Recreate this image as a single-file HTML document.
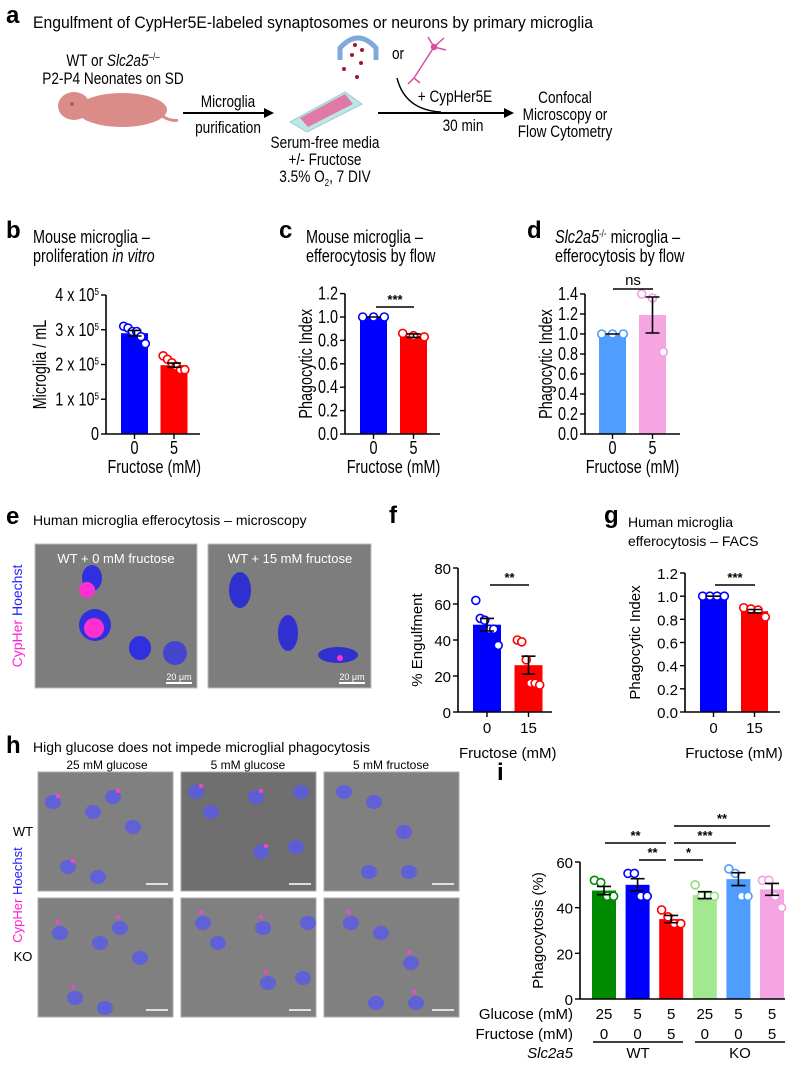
<!DOCTYPE html>
<html><head><meta charset="utf-8">
<style>
html,body{margin:0;padding:0;background:#fff;}
svg{display:block;font-family:"Liberation Sans",sans-serif;}
.lbl{font-weight:bold;font-size:24px;}
</style></head><body>
<svg id="fig" width="800" height="1092" viewBox="0 0 800 1092" xmlns="http://www.w3.org/2000/svg">
<!-- Panel a -->
<g>
<text class="lbl" x="6" y="23">a</text>
<text x="33" y="28" font-size="17" textLength="560" lengthAdjust="spacingAndGlyphs">Engulfment of CypHer5E-labeled synaptosomes or neurons by primary microglia</text>
<text class="n" x="113" y="66" font-size="17" text-anchor="middle">WT or <tspan font-style="italic">Slc2a5</tspan><tspan font-size="10" dy="-6">–/–</tspan></text>
<text class="n" x="113" y="84" font-size="17" text-anchor="middle">P2-P4 Neonates on SD</text>
<g fill="#d98c88">
<ellipse cx="122" cy="110" rx="45" ry="17"/>
<ellipse cx="74" cy="106" rx="16" ry="14"/>
<path d="M162 116 Q172 122 178 120" stroke="#d98c88" stroke-width="3" fill="none"/>
<circle cx="72" cy="104" r="1.8" fill="#8c5a58"/>
</g>
<line x1="183" y1="113" x2="266" y2="113" stroke="#000" stroke-width="2"/>
<polygon points="274,113 264,108 264,118" fill="#000"/>
<text class="n" x="228" y="107" font-size="17" text-anchor="middle">Microglia</text>
<text class="n" x="228" y="133" font-size="17" text-anchor="middle">purification</text>
<g>
<polygon points="290,122 345,92 362,104 307,132" fill="#bfe6e6" stroke="#9ccfcf"/>
<polygon points="300,118 345,94 353,104 308,127" fill="#e07aa5"/>
</g>
<text class="n" x="325" y="148" font-size="17" text-anchor="middle">Serum-free media</text>
<text class="n" x="325" y="165" font-size="17" text-anchor="middle">+/- Fructose</text>
<text class="n" x="325" y="182" font-size="17" text-anchor="middle">3.5% O<tspan font-size="10" dy="4">2</tspan><tspan dy="-4">, 7 DIV</tspan></text>
<g>
<path d="M340 60 L340 48 Q358 28 376 48 L376 60" fill="none" stroke="#7fa8dc" stroke-width="5"/>
<circle cx="355" cy="45" r="2" fill="#a01830"/><circle cx="362" cy="50" r="2" fill="#a01830"/>
<circle cx="352" cy="55" r="2" fill="#a01830"/><circle cx="361" cy="63" r="2" fill="#a01830"/>
<circle cx="344" cy="69" r="2" fill="#a01830"/><circle cx="357" cy="77" r="2" fill="#a01830"/>
</g>
<text class="n" x="398" y="59" font-size="17" text-anchor="middle">or</text>
<g stroke="#d94fa0" stroke-width="1.5" fill="none">
<path d="M434 47 L414 78 M434 47 L428 37 M434 47 L444 38 M434 47 L446 50 M414 78 L408 84 M414 78 L420 83"/>
<circle cx="434" cy="47" r="2.5" fill="#d94fa0"/>
</g>
<path d="M397 78 Q405 110 441 112" fill="none" stroke="#000" stroke-width="1.5"/>
<line x1="378" y1="113" x2="506" y2="113" stroke="#000" stroke-width="2"/>
<polygon points="514,113 504,108 504,118" fill="#000"/>
<text class="n" x="455" y="102" font-size="17" text-anchor="middle">+ CypHer5E</text>
<text class="n" x="463" y="131" font-size="17" text-anchor="middle">30 min</text>
<text class="n" x="565" y="103" font-size="17" text-anchor="middle">Confocal</text>
<text class="n" x="565" y="120" font-size="17" text-anchor="middle">Microscopy or</text>
<text class="n" x="565" y="137" font-size="17" text-anchor="middle">Flow Cytometry</text>
</g>
<!-- titles b c d -->
<text class="lbl" x="6" y="238">b</text>
<text class="n" x="33" y="243" font-size="18">Mouse microglia –</text>
<text class="n" x="33" y="262" font-size="18">proliferation <tspan font-style="italic">in vitro</tspan></text>
<text class="lbl" x="279" y="238">c</text>
<text class="n" x="306" y="243" font-size="18">Mouse microglia –</text>
<text class="n" x="306" y="262" font-size="18">efferocytosis by flow</text>
<text class="lbl" x="527" y="238">d</text>
<text class="n" x="555" y="243" font-size="18"><tspan font-style="italic">Slc2a5</tspan><tspan font-size="10" dy="-6">-/-</tspan><tspan dy="6"> microglia –</tspan></text>
<text class="n" x="555" y="262" font-size="18">efferocytosis by flow</text>
<!-- e -->
<text class="lbl" x="6" y="524">e</text>
<text x="33" y="525" font-size="14">Human microglia efferocytosis – microscopy</text>
<text x="22" y="616" font-size="14" transform="rotate(-90 22 616)" text-anchor="middle"><tspan fill="#ff1fd2">CypHer</tspan> <tspan fill="#2020ff">Hoechst</tspan></text>
<g>
<rect x="35" y="544" width="162" height="144" fill="#7d7d7d" stroke="#bbb"/>
<ellipse cx="92" cy="578" rx="10" ry="13" fill="#3030e0"/><circle cx="87" cy="590" r="8" fill="#ff30d0"/>
<ellipse cx="95" cy="625" rx="16" ry="16" fill="#3030e0"/><circle cx="94" cy="628" r="10" fill="#ff30d0"/>
<ellipse cx="140" cy="648" rx="11" ry="12" fill="#3030e0"/><ellipse cx="175" cy="653" rx="12" ry="12" fill="#4545d0"/>
<text x="116" y="563" font-size="13" fill="#fff" text-anchor="middle">WT + 0 mM fructose</text>
<line x1="166" y1="683" x2="192" y2="683" stroke="#fff" stroke-width="2"/><text x="179" y="680" font-size="9" fill="#fff" text-anchor="middle">20 μm</text>
</g>
<g>
<rect x="208" y="544" width="163" height="144" fill="#7d7d7d" stroke="#bbb"/>
<ellipse cx="240" cy="590" rx="11" ry="18" fill="#3030d0"/>
<ellipse cx="288" cy="633" rx="10" ry="18" fill="#3030d0"/>
<ellipse cx="338" cy="655" rx="20" ry="8" fill="#3030d0"/><circle cx="340" cy="658" r="3" fill="#ff30d0"/>
<text x="290" y="563" font-size="13" fill="#fff" text-anchor="middle">WT + 15 mM fructose</text>
<line x1="339" y1="683" x2="365" y2="683" stroke="#fff" stroke-width="2"/><text x="352" y="680" font-size="9" fill="#fff" text-anchor="middle">20 μm</text>
</g>
<text class="lbl" x="389" y="523">f</text>
<text class="lbl" x="604" y="523">g</text>
<text x="628" y="527" font-size="14">Human microglia</text>
<text x="628" y="546" font-size="14">efferocytosis – FACS</text>
<!-- h -->
<text class="lbl" x="6" y="753">h</text>
<text x="33" y="752" font-size="14">High glucose does not impede microglial phagocytosis</text>
<text x="107" y="769" font-size="12" text-anchor="middle">25 mM glucose</text>
<text x="248" y="769" font-size="12" text-anchor="middle">5 mM glucose</text>
<text x="391" y="769" font-size="12" text-anchor="middle">5 mM fructose</text>
<text x="23" y="836" font-size="13" text-anchor="middle">WT</text>
<text x="23" y="961" font-size="13" text-anchor="middle">KO</text>
<text x="22" y="895" font-size="13" transform="rotate(-90 22 895)" text-anchor="middle"><tspan fill="#ff1fd2">CypHer</tspan> <tspan fill="#2020ff">Hoechst</tspan></text>
<g id="hgrid"></g>
<text class="lbl" x="497" y="780">i</text>
<g id="charts"></g>
</svg>
<script>
// ---- Data arrays ----
const bCats = ["0","5"];
const bMeans = [2.9, 1.98];
const bSem = [0.08, 0.06];
const bPts = [[3.1,3.05,2.95,2.95,2.8,2.6],[2.25,2.15,2.05,1.95,1.85,1.85]];
const bTicks = [0,1,2,3,4];
const cCats = ["0","5"];
const cMeans = [1.0, 0.84];
const cSem = [0, 0.015];
const cPts = [[1,1,1],[0.86,0.84,0.83]];
const cTicks = [0,0.2,0.4,0.6,0.8,1.0,1.2];
const dCats = ["0","5"];
const dMeans = [1.0, 1.19];
const dSem = [0, 0.18];
const dPts = [[1,1,1],[1.4,1.36,0.82]];
const dTicks = [0,0.2,0.4,0.6,0.8,1.0,1.2,1.4];
const fCats = ["0","15"];
const fMeans = [48.5, 26];
const fSem = [3.5, 5];
const fPts = [[62,52,51,46,46,37],[40,39,29,16,16,15]];
const fTicks = [0,20,40,60,80];
const gCats = ["0","15"];
const gMeans = [1.0, 0.87];
const gSem = [0, 0.015];
const gPts = [[1,1,1,1],[0.9,0.89,0.88,0.82]];
const gTicks = [0,0.2,0.4,0.6,0.8,1.0,1.2];
const iGlucose = ["25","5","5","25","5","5"];
const iFructose = ["0","0","5","0","0","5"];
const iMeans = [47.5, 50, 35, 45.5, 52.5, 48];
const iSem = [1.8, 2.7, 1.6, 1.5, 2.8, 2.6];
const iPts = [[52,51,45,45],[55,55,45,45],[39,36,33,33],[50,45,45,45],[57,55,45,45],[52,52,45,40]];
const iTicks = [0,20,40,60];

const NS="http://www.w3.org/2000/svg";
const root=document.getElementById('charts');
function mk(tag,attrs,parent){const e=document.createElementNS(NS,tag);for(const k in attrs)e.setAttribute(k,attrs[k]);(parent||root).appendChild(e);return e;}

function chart(name,geo,cats,means,sem,pts,ticks,fill,stroke,tickFmt,ylabel,narrow){
  const g=mk('g',{});
  
  
  const ymax=ticks[ticks.length-1];
  const Y=v=>geo.y0-(v/ymax)*(geo.y0-geo.yTop);
  const X=i=>geo.c0+i*geo.step;
  const cls=narrow?'n':'';
  means.forEach((m,i)=>{
    const r=mk('rect',{x:X(i)-geo.bw/2,y:Y(m),width:geo.bw,height:geo.y0-Y(m),fill:fill[i]},g);
    
    
  });
  pts.forEach((arr,i)=>{
    const n=arr.length;
    arr.forEach((v,j)=>{
      const off=(j-(n-1)/2)*(geo.bw*0.8/Math.max(n-1,1));
      const c=mk('circle',{cx:X(i)+off,cy:Y(v),r:4,fill:'#fff',stroke:stroke[i],'stroke-width':1.6},g);
      
      
    });
  });
  means.forEach((m,i)=>{
    const x=X(i),t=Y(m+sem[i]),b=Y(m-sem[i]);
    const e=mk('path',{d:`M${x} ${t}V${b}M${x-7} ${t}H${x+7}M${x-7} ${b}H${x+7}`,stroke:'#000','stroke-width':1.6,fill:'none'},g);
    
    
  });
  mk('line',{x1:geo.ax,y1:Y(ymax),x2:geo.ax,y2:geo.y0,stroke:'#000','stroke-width':1.6},g);
  mk('line',{x1:geo.ax,y1:geo.y0,x2:geo.end,y2:geo.y0,stroke:'#000','stroke-width':1.6},g);
  ticks.forEach(t=>{
    mk('line',{x1:geo.ax-5,y1:Y(t),x2:geo.ax,y2:Y(t),stroke:'#000','stroke-width':1.4},g);
    const tx=mk('text',{x:geo.ax-7,y:Y(t)+6,'font-size':geo.fs,'text-anchor':'end','class':cls},g);
    tx.innerHTML=tickFmt(t);
    
    
  });
  if(cats){
    cats.forEach((c,i)=>{
      mk('line',{x1:X(i),y1:geo.y0,x2:X(i),y2:geo.y0+5,stroke:'#000','stroke-width':1.4},g);
      const tx=mk('text',{x:X(i),y:geo.y0+geo.xl,'font-size':geo.fs,'text-anchor':'middle','class':cls},g);
      tx.textContent=c;
      
      
    });
    const xt=mk('text',{x:(X(0)+X(cats.length-1))/2,y:geo.y0+geo.xt,'font-size':geo.fs,'text-anchor':'middle','class':cls},g);
    xt.textContent='Fructose (mM)';
    
    
  }
  const ly=(geo.y0+Y(ymax))/2;
  const yl=mk('text',{x:geo.ylx,y:ly,'font-size':geo.fs,'text-anchor':'middle','class':cls,transform:`rotate(-90 ${geo.ylx} ${ly})`},g);
  yl.textContent=ylabel;
  
  
  return {X,Y,g};
}
function sig(g,x1,x2,y,label){
  mk('line',{x1,y1:y,x2,y2:y,stroke:'#000','stroke-width':1.6},g);
  const t=mk('text',{x:(x1+x2)/2,y:label==='ns'?y-4:y-3,'font-size':label==='ns'?15:13,'text-anchor':'middle','font-weight':label==='ns'?'normal':'bold'},g);
  t.textContent=label;
  
  
}
const dec=t=>t.toFixed(1);
const sci=t=>t===0?'0':t+' x 10<tspan font-size="10" dy="-6">5</tspan>';
chart('chart-b',{ax:106,y0:434,yTop:295,c0:134.5,step:39.5,bw:27,end:200,fs:18,ylx:46,xl:20,xt:39},bCats,bMeans,bSem,bPts,bTicks,['#0000ff','#ff0000'],['#0000ff','#ff0000'],sci,'Microglia / mL',true);
const c=chart('chart-c',{ax:345,y0:434,yTop:293.6,c0:373.5,step:40,bw:27,end:440,fs:18,ylx:312,xl:20,xt:39},cCats,cMeans,cSem,cPts,cTicks,['#0000ff','#ff0000'],['#0000ff','#ff0000'],dec,'Phagocytic Index',true);
sig(c.g,376,414,307,'***');
const d=chart('chart-d',{ax:585,y0:434,yTop:294,c0:612.5,step:40,bw:27,end:680,fs:18,ylx:552,xl:20,xt:39},dCats,dMeans,dSem,dPts,dTicks,['#4f9dff','#f5a6e2'],['#4f9dff','#f0a0e0'],dec,'Phagocytic Index',true);
sig(d.g,613,653,289,'ns');
const f=chart('chart-f',{ax:458,y0:712,yTop:568,c0:487,step:41.5,bw:28,end:552,fs:15,ylx:422,xl:21,xt:46},fCats,fMeans,fSem,fPts,fTicks,['#0000ff','#ff0000'],['#0000ff','#ff0000'],t=>String(t),'% Engulfment',false);
sig(f.g,490,529,585,'**');
const gg=chart('chart-g',{ax:685,y0:712,yTop:573,c0:713.5,step:41,bw:27,end:780,fs:15,ylx:640,xl:21,xt:46},gCats,gMeans,gSem,gPts,gTicks,['#0000ff','#ff0000'],['#0000ff','#ff0000'],dec,'Phagocytic Index',false);
sig(gg.g,715,755,585,'***');
const ic=chart('chart-i',{ax:580,y0:999,yTop:862,c0:604,step:33.6,bw:24,end:785,fs:15,ylx:543,xl:20,xt:40},null,iMeans,iSem,iPts,iTicks,['#008a00','#0000ff','#ff0000','#a2e890','#4f9dff','#f5a6e2'],['#008a00','#0000ff','#ff0000','#90dd80','#4f9dff','#f0a0e0'],t=>String(t),'Phagocytosis (%)',false);
sig(ic.g,605,666,843,'**');
sig(ic.g,639,666,860,'**');
sig(ic.g,674,703,860,'*');
sig(ic.g,674,736,843,'***');
sig(ic.g,674,770,826,'**');
[['Glucose (mM)',iGlucose,1019],['Fructose (mM)',iFructose,1039]].forEach(([lab,arr,y])=>{
  const t=mk('text',{x:573,y,'font-size':15,'text-anchor':'end'},ic.g);
  t.textContent=lab;
  
  
  arr.forEach((v,i)=>{
    const tx=mk('text',{x:ic.X(i),y,'font-size':15,'text-anchor':'middle'},ic.g);
    tx.textContent=v;
    
    
  });
});
mk('line',{x1:593,y1:1042,x2:683,y2:1042,stroke:'#000','stroke-width':1.6},ic.g);
mk('line',{x1:695,y1:1042,x2:785,y2:1042,stroke:'#000','stroke-width':1.6},ic.g);
const sl=mk('text',{x:573,y:1058,'font-size':15,'text-anchor':'end','font-style':'italic'},ic.g);
sl.textContent='Slc2a5';


const wt=mk('text',{x:638,y:1058,'font-size':15,'text-anchor':'middle'},ic.g);
wt.textContent='WT';


const ko=mk('text',{x:740,y:1058,'font-size':15,'text-anchor':'middle'},ic.g);
ko.textContent='KO';



// micrograph grid h (decorative)
const hg=document.getElementById('hgrid');
const cols=[38,181,324], rows=[772,898];
const cells=[[[15,30],[55,40],[75,25],[95,55],[30,95],[60,105]],[[15,20],[30,40],[75,25],[120,20],[80,80],[115,75]],[[20,20],[50,30],[80,60],[45,100],[85,100]]];
rows.forEach((ry,ri)=>cols.forEach((cx,ci)=>{
  const r=mk('rect',{x:cx,y:ry,width:135,height:119,fill:ri===0&&ci===1?'#6f6f6f':'#808080',stroke:'#aaa'},hg);
  
  
  cells[ci].forEach(([dx,dy],k)=>{
    mk('ellipse',{cx:cx+dx+(ri*7)%20,cy:ry+dy+(ri*5),rx:8,ry:7,fill:'#5a5ae6',opacity:0.85},hg);
    if(k%2===0&&!(ci===2&&ri===0)) mk('circle',{cx:cx+dx+5,cy:ry+dy-6,r:2,fill:'#ff40d0'},hg);
  });
  mk('line',{x1:cx+108,y1:ry+112,x2:cx+130,y2:ry+112,stroke:'#fff','stroke-width':1.5},hg);
}));

// condense "narrow" font text (Arial Narrow look)
document.querySelectorAll('text.n').forEach(el=>{
  const w=el.getComputedTextLength();
  el.setAttribute('textLength', (w*0.8).toFixed(1));
  el.setAttribute('lengthAdjust','spacingAndGlyphs');
});
</script>
</body></html>
